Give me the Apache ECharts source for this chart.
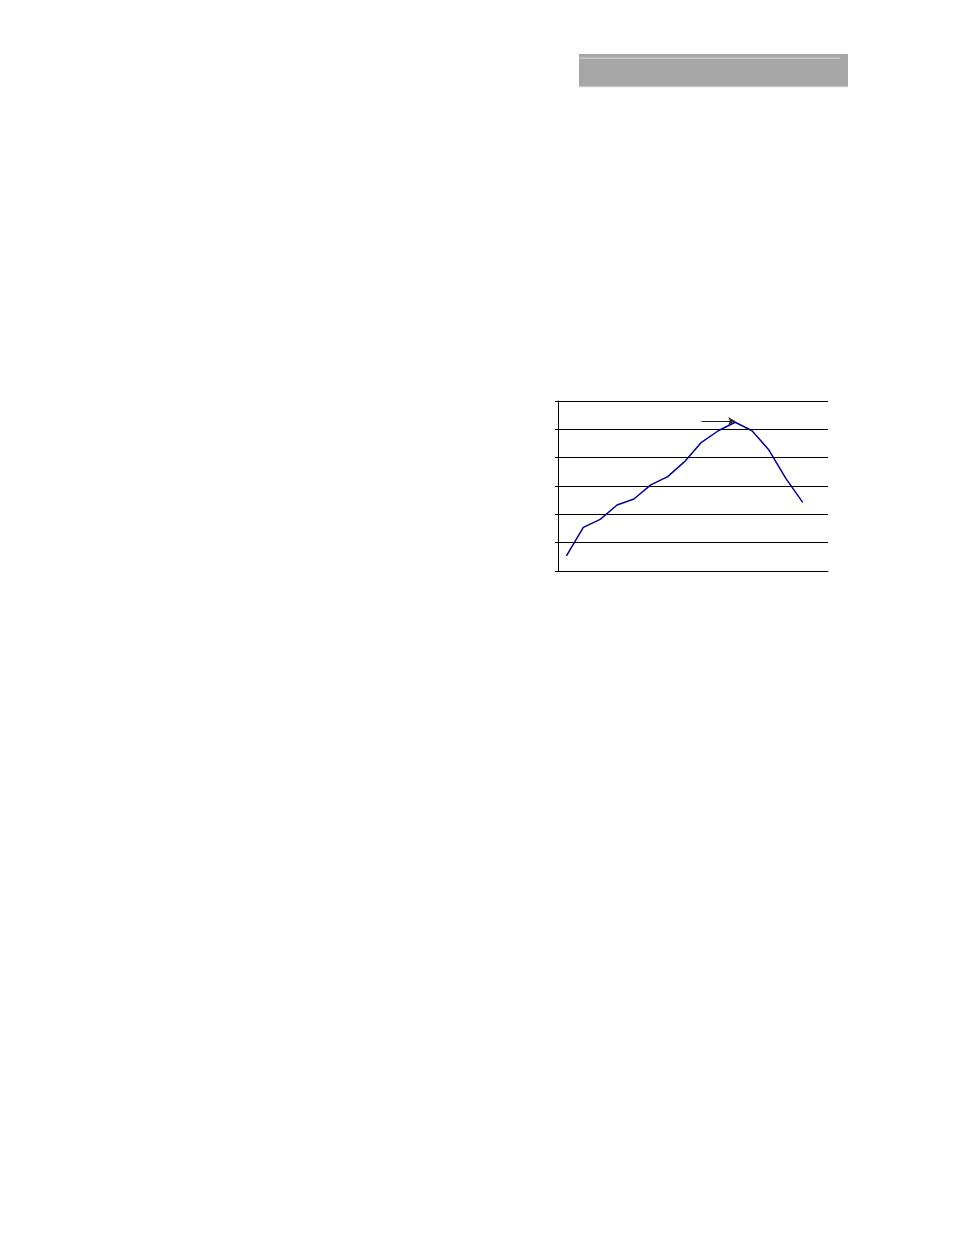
<!DOCTYPE html>
<html>
<head>
<meta charset="utf-8">
<script src="https://cdn.jsdelivr.net/npm/echarts@6/dist/echarts.min.js"></script>
<style>
html,body{margin:0;padding:0;background:#fff;}
#chart{width:954px;height:1235px;}
</style>
</head>
<body>
<div id="chart"></div>
<script>
// Data (unlabelled axes)
const categories = ['1','2','3','4','5','6','7','8','9','10','11','12','13','14','15','16'];
const seriesValues = [0.53, 1.54, 1.82, 2.33, 2.54, 3.04, 3.33, 3.86, 4.54, 4.95, 5.25, 4.95, 4.27, 3.27, 2.42, null];
const yTicks = [0, 1, 2, 3, 4, 5, 6];
const arrowStart = [7.87, 5.29];
const arrowEnd = [9.89, 5.29];

const chart = echarts.init(document.getElementById('chart'));
chart.setOption({
  animation: false,
  backgroundColor: '#ffffff',
  graphic: [
    { type: 'rect', shape: { x: 579, y: 54, width: 269, height: 33 }, style: { fill: '#a6a6a6' } },
    { type: 'rect', shape: { x: 579, y: 57.5, width: 261, height: 1.2 }, style: { fill: '#d0d0d0' } },
    { type: 'rect', shape: { x: 579, y: 86, width: 269, height: 1.2 }, style: { fill: '#c8c8c8' } }
  ],
  grid: { left: 558, top: 401, right: 126, bottom: 664, containLabel: false },
  xAxis: {
    type: 'category',
    data: categories,
    boundaryGap: true,
    axisLine: { show: true, lineStyle: { color: '#000', width: 1 } },
    axisTick: { show: false },
    axisLabel: { show: false },
    splitLine: { show: false }
  },
  yAxis: {
    type: 'value',
    min: yTicks[0],
    max: yTicks[yTicks.length - 1],
    interval: 1,
    axisLine: { show: true, lineStyle: { color: '#000', width: 1 } },
    axisTick: { show: true, length: 3, lineStyle: { color: '#000' } },
    axisLabel: { show: false },
    splitLine: { show: true, lineStyle: { color: '#000', width: 1 } }
  },
  series: [{
    type: 'line',
    data: seriesValues,
    symbol: 'none',
    connectNulls: false,
    lineStyle: { color: '#000099', width: 1.5 },
    markLine: {
      silent: true,
      symbol: ['none', 'arrow'],
      symbolSize: [6, 7],
      label: { show: false },
      lineStyle: { color: '#222', width: 1, type: 'solid' },
      data: [[{ coord: arrowStart }, { coord: arrowEnd }]]
    }
  }]
});
</script>
</body>
</html>
